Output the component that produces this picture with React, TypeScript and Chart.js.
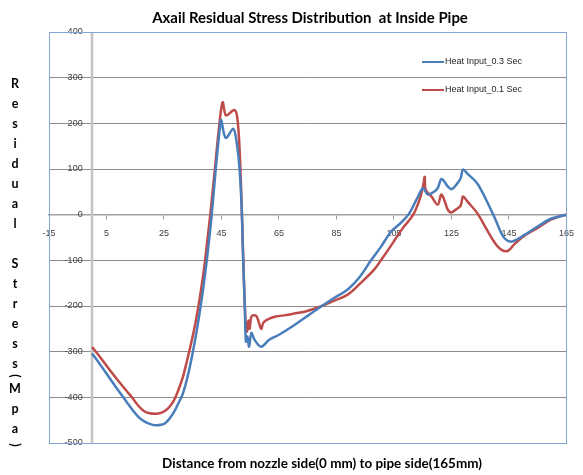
import { useEffect, useRef } from "react";
import { Chart, registerables } from "chart.js";

Chart.register(...registerables);

const chartTitle = "Axail Residual Stress Distribution  at Inside Pipe";
const xAxisTitle = "Distance from nozzle side(0 mm) to pipe side(165mm)";
const yAxisTitle = "Residual Stress(Mpa)";

const seriesLabels = ["Heat Input_0.3 Sec", "Heat Input_0.1 Sec"];

const xMin = -15;
const xMax = 165;
const xStep = 20;
const yMin = -500;
const yMax = 400;
const yStep = 100;

const blueX = [0, 3, 6, 9, 12, 14, 16, 18, 20, 22, 24, 25.5, 27, 28.5, 30, 31.5, 33.2, 34.9, 36.5, 38, 39.5, 40.6, 41.6, 43, 44.6, 44.9, 46.5, 49.1, 50.3, 51.2, 52, 52.5, 53.1, 53.5, 54, 54.6, 55.4, 56.5, 58.8, 61.6, 65, 69.6, 73, 75.3, 79.9, 84, 88.9, 93, 97, 100.5, 104, 107, 110, 113, 115.1, 116.8, 119.1, 120.2, 121.4, 122.2, 123.7, 125.1, 127.1, 128.2, 129, 130.5, 133.9, 136.7, 140.1, 143, 145.5, 148.1, 150.4, 155, 159.5, 165];
const blueY = [-304, -330, -357, -384, -410, -427, -442, -452, -458, -461, -460, -456, -446, -432, -413, -393, -355, -305, -250, -190, -120, -60, 0, 100, 200, 207, 168, 188, 157, 106, 18, -91, -200, -278, -267, -289, -259, -274, -289, -274, -263, -245, -230, -220, -200, -183, -164, -137, -100, -70, -37, -20, 0, 35, 58, 44, 51, 58, 78, 75, 62, 56, 69, 80, 99, 90, 69, 37, -8, -48, -59, -53, -44, -26, -9, 0];

const redX = [0, 3, 6, 9, 12, 14, 16, 18, 20, 22, 24, 25.5, 27, 28.5, 30, 31.5, 33, 34.5, 36, 37.5, 39, 40.1, 41.1, 42.7, 44.3, 45.4, 46.6, 49.4, 50.5, 51.4, 52.2, 52.9, 53.4, 53.9, 54.4, 54.8, 55.5, 57.1, 58.8, 59.6, 61.5, 63.9, 67.3, 70, 74.2, 79.9, 84, 88.9, 93, 98, 101, 104.9, 108, 111.7, 114, 115.1, 115.7, 116, 118, 120.2, 121.4, 122.2, 123.7, 124.8, 126.5, 128.2, 129, 130.5, 133.9, 137.3, 140.1, 142.4, 144.7, 147, 150.4, 155, 159.5, 162.5, 165];
const redY = [-290, -314, -339, -363, -386, -401, -418, -430, -435, -436, -434, -429, -420, -406, -384, -357, -320, -280, -235, -180, -115, -55, 0, 100, 200, 246, 217, 229, 212, 128, -18, -164, -235, -256, -232, -250, -222, -222, -250, -236, -228, -223, -220, -217, -212, -200, -189, -175, -152, -121, -95, -59, -30, 0, 35, 62, 83, 55, 40, 22, 44, 37, 11, 5, 11, 20, 40, 29, 4, -33, -62, -77, -79, -64, -46, -29, -11, -4, 0];

const seriesColors = ["#4a7ebb", "#be4b48"];

function toPoints(xs: number[], ys: number[]) {
  return xs.map((x, i) => ({ x, y: ys[i] }));
}

function fitFont(ctx: CanvasRenderingContext2D, text: string, family: string, weight: string, target: number) {
  ctx.font = `${weight} 20px ${family}`;
  const w = ctx.measureText(text).width;
  return (20 * target) / w;
}

const axisLinePlugin = {
  id: "axisLine",
  beforeDatasetsDraw(chart: any) {
    const { ctx, chartArea, scales } = chart;
    const px = Math.round(scales.x.getPixelForValue(0));
    ctx.save();
    ctx.strokeStyle = "#c4c4c4";
    ctx.lineWidth = 2.5;
    ctx.beginPath();
    ctx.moveTo(px, chartArea.top);
    ctx.lineTo(px, chartArea.bottom);
    ctx.stroke();
    ctx.restore();
  },
};

const decorPlugin = {
  id: "decor",
  afterDraw(chart: any) {
    const { ctx, chartArea } = chart;
    ctx.save();
    ctx.strokeStyle = "#7ea6d8";
    ctx.lineWidth = 1;
    ctx.strokeRect(
      Math.round(chartArea.left) + 0.5,
      Math.round(chartArea.top) + 0.5,
      Math.round(chartArea.right - chartArea.left),
      Math.round(chartArea.bottom - chartArea.top)
    );

    const fam = "Lato, 'Liberation Sans', sans-serif";
    ctx.fillStyle = "#000";
    ctx.textAlign = "center";
    ctx.textBaseline = "alphabetic";
    let size = fitFont(ctx, chartTitle, fam, "bold", 316);
    ctx.font = `bold ${size}px ${fam}`;
    ctx.fillText(chartTitle, 310, 23);

    size = fitFont(ctx, xAxisTitle, fam, "bold", 320);
    ctx.font = `bold ${size}px ${fam}`;
    ctx.fillText(xAxisTitle, 322, 468);

    ctx.font = `bold 12.5px ${fam}`;
    let base = 88;
    const cx = 15;
    for (const ch of yAxisTitle.split("")) {
      if (ch === "(" || ch === ")") {
        const cy = base - 20 + (ch === "(" ? 8 : 12);
        ctx.save();
        ctx.translate(cx, cy);
        ctx.rotate(Math.PI / 2);
        ctx.textBaseline = "middle";
        ctx.fillText(ch, 0, 0);
        ctx.restore();
        if (ch === "(") base += 5;
        continue;
      }
      if (ch !== " ") ctx.fillText(ch, cx, base);
      base += 20;
    }

    ctx.font = "9px 'Liberation Sans', Arial, sans-serif";
    ctx.textAlign = "left";
    ctx.textBaseline = "middle";
    chart.data.datasets.forEach((ds: any, i: number) => {
      const y = 62 + i * 28;
      ctx.strokeStyle = ds.borderColor;
      ctx.lineWidth = 2;
      ctx.beginPath();
      ctx.moveTo(422, y);
      ctx.lineTo(444, y);
      ctx.stroke();
      ctx.fillStyle = "#262626";
      ctx.fillText(ds.label, 445, y);
    });
    ctx.restore();
  },
};

export default function App() {
  const ref = useRef<HTMLCanvasElement>(null);
  useEffect(() => {
    const mk = (i: number, xs: number[], ys: number[]) => ({
      label: seriesLabels[i],
      data: toPoints(xs, ys),
      borderColor: seriesColors[i],
      backgroundColor: seriesColors[i],
      borderWidth: 2.5,
      pointRadius: 0,
      tension: 0.35,
    });
    const chart = new Chart(ref.current!, {
      type: "line",
      data: { datasets: [mk(0, blueX, blueY), mk(1, redX, redY)] },
      options: {
        responsive: false,
        animation: false,
        devicePixelRatio: 1,
        layout: { padding: { left: 49, right: 8, top: 32, bottom: 32 } },
        plugins: { legend: { display: false }, title: { display: false }, tooltip: { enabled: false } },
        scales: {
          x: {
            type: "linear",
            position: { y: 0 } as any,
            min: xMin,
            max: xMax,
            ticks: {
              stepSize: xStep,
              autoSkip: false,
              maxRotation: 0,
              padding: 9,
              color: "#404040",
              font: { family: "'Liberation Sans', Arial, sans-serif", size: 9 },
            },
            grid: { display: true, drawOnChartArea: false, drawTicks: true, tickLength: 4, color: "#9a9a9a" },
            border: { display: true, color: "#a0a0a0", width: 1.5 },
          },
          y: {
            type: "linear",
            position: { x: -3.3 } as any,
            min: yMin,
            max: yMax,
            ticks: {
              stepSize: yStep,
              color: "#404040",
              font: { family: "'Liberation Sans', Arial, sans-serif", size: 9 },
            },
            grid: { color: "#8c8c8c", lineWidth: 1, drawTicks: false },
            border: { display: false },
          },
        },
      },
      plugins: [axisLinePlugin, decorPlugin],
    });
    return () => chart.destroy();
  }, []);
  return (
    <div style={{ position: "absolute", left: 0, top: 0, width: 583, height: 475, background: "#fff" }}>
      <canvas ref={ref} width={583} height={475} style={{ display: "block", width: 583, height: 475 }} />
    </div>
  );
}
